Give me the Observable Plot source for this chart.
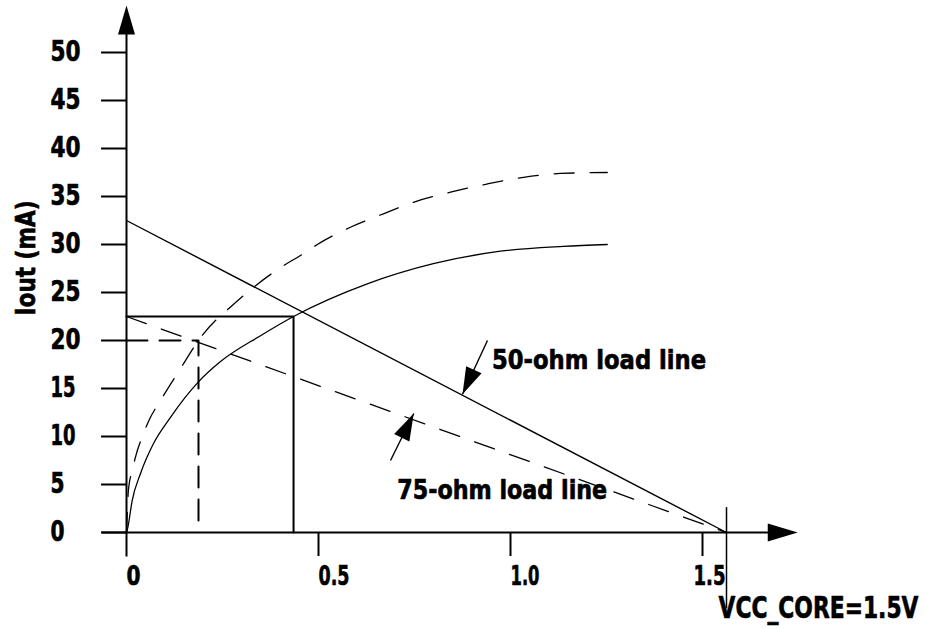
<!DOCTYPE html>
<html><head><meta charset="utf-8">
<script src="https://cdn.jsdelivr.net/npm/d3@7"></script>
<script src="https://cdn.jsdelivr.net/npm/@observablehq/plot@0.6"></script>
<style>
html,body{margin:0;padding:0;background:#fff;}
#chart svg{display:block;}
</style>
</head><body><div id="chart"></div>
<script>
// ---- data ----
const yTicks = [0, 5, 10, 15, 20, 25, 30, 35, 40, 45, 50];
const xTicks = [0, 0.5, 1.0, 1.5];
const xTickLabels = ["0", "0.5", "1.0", "1.5"];

// solid I-V curve (V, mA)
const solidV = [0, 0.0034, 0.0148, 0.0365, 0.0703, 0.1146, 0.1867, 0.2448, 0.349, 0.435, 0.627, 0.799, 0.974, 1.138, 1.252];
const solidI = [0, 0.52, 3.33, 6.15, 9.27, 12.0, 15.66, 17.8, 20.5, 22.5, 25.9, 28.0, 29.3, 29.8, 30.0];
// dashed I-V curve
const dashedV = [0, 0.002, 0.005, 0.015, 0.023, 0.044, 0.0625, 0.0885, 0.141, 0.1875, 0.2005, 0.271, 0.331, 0.409, 0.453, 0.505, 0.583, 0.669, 0.747, 0.844, 0.939, 1.034, 1.130, 1.252];
const dashedI = [0, 1.98, 4.4, 6.46, 7.8, 10.3, 12.0, 13.75, 17.1, 20.0, 20.7, 23.5, 25.55, 27.8, 28.85, 30.2, 31.8, 33.2, 34.4, 35.45, 36.3, 37.0, 37.4, 37.5];

// load lines: short-circuit current (mA) and open-circuit voltage
const vccCore = 1.5625;
const load50I0 = 32.5;
const load75I0 = 22.5;

// operating points
const op50 = [0.435, 22.5];
const op75 = [0.1875, 20.0];

// annotations
const labelTexts = ["50-ohm load line", "75-ohm load line"];
const labelV = [0.952, 0.705];
const labelI = [17.9, 4.4];
const arrowTailV = [0.94, 0.6875];
const arrowTailI = [20.0, 7.5];
const arrowTipV = [0.875, 0.748];
const arrowTipI = [14.4, 12.4];

const vccLabel = "VCC_CORE=1.5V";
const yTitle = "Iout (mA)";

// axis extents
const xAxisMin = -0.065, xAxisMax = 1.748;
const yAxisMin = -2.5, yAxisMax = 54.9;

// ---- layout ----
const W = 926, H = 629;
const xRange = [126, 702];   // px for domain [0, 1.5]
const yRange = [532, 52];    // px for domain [0, 50]
const kx = (xRange[1] - xRange[0]) / 1.5;
const ky = (yRange[0] - yRange[1]) / 50;

const arrowHead = (L, Wd) => ({
  draw(ctx) { ctx.moveTo(0, 0); ctx.lineTo(Wd, L); ctx.lineTo(-Wd, L); ctx.closePath(); }
});

const solid = solidV.map((v, i) => [v, solidI[i]]);
const dashed = dashedV.map((v, i) => [v, dashedI[i]]);
const ann = labelTexts.map((t, i) => ({
  text: t, lx: labelV[i], ly: labelI[i],
  x1: arrowTailV[i], y1: arrowTailI[i], x2: arrowTipV[i], y2: arrowTipI[i],
  rot: Math.atan2((arrowTipV[i] - arrowTailV[i]) * kx, (arrowTipI[i] - arrowTailI[i]) * ky) * 180 / Math.PI
}));

const font = "'DejaVu Sans', sans-serif";
const heavy = {fontWeight: "bold", stroke: "#000", strokeWidth: 0.7, fill: "#000"};

const chart = Plot.plot({
  width: W, height: H,
  margin: 0,
  x: {domain: [0, 1.5], range: xRange, axis: null},
  y: {domain: [0, 50], range: yRange, axis: null},
  style: {fontFamily: font, fontWeight: "bold", background: "#fff", color: "#000"},
  marks: [
    // axes
    Plot.link([0], {x1: xAxisMin, x2: xAxisMax - 0.05, y1: 0, y2: 0, stroke: "#000", strokeWidth: 2}),
    Plot.link([0], {x1: 0, x2: 0, y1: yAxisMin, y2: yAxisMax - 2, stroke: "#000", strokeWidth: 2}),
    Plot.dot([0], {x: xAxisMax, y: 0, symbol: arrowHead(30, 9), rotate: 90, fill: "#000", stroke: null}),
    Plot.dot([0], {x: 0, y: yAxisMax, symbol: arrowHead(29, 8.5), rotate: 0, fill: "#000", stroke: null}),
    Plot.ruleY(yTicks, {y: d => d, x1: xAxisMin, x2: 0, stroke: "#000", strokeWidth: 2}),
    Plot.ruleX(xTicks.slice(1), {x: d => d, y1: yAxisMin, y2: 0, stroke: "#000", strokeWidth: 2}),
    Plot.text(yTicks, {x: 0, y: d => d, text: d => String(d), textAnchor: "start", dx: -76, fontSize: 28, ...heavy}),
    Plot.text(xTicks.slice(0, 3), {x: d => d, y: 0, text: (d, i) => xTickLabels[i], textAnchor: "start", dy: 44, fontSize: 27, ...heavy}),
    Plot.text(xTicks.slice(3), {x: d => d, y: 0, text: (d, i) => xTickLabels[3 + i], textAnchor: "start", dx: -9, dy: 44, fontSize: 27, ...heavy}),
    Plot.text([yTitle], {x: 0, y: 28.6, text: d => d, rotate: -90, dx: -100, fontSize: 27, ...heavy}),
    // VCC marker
    Plot.link([0], {x1: vccCore, x2: vccCore, y1: -7.9, y2: 2.64, stroke: "#000", strokeWidth: 1.5}),
    Plot.text([vccLabel], {x: vccCore, y: 0, text: d => d, textAnchor: "end", dx: 192, dy: 76, fontSize: 31, ...heavy}),
    // operating point boxes
    Plot.line([[0, op50[1]], [op50[0], op50[1]], [op50[0], 0]], {stroke: "#000", strokeWidth: 2}),
    Plot.line([[0, op75[1]], [op75[0], op75[1]], [op75[0], 0]], {stroke: "#000", strokeWidth: 2, strokeDasharray: "21,12"}),
    // load lines
    Plot.line([[0, load50I0], [vccCore, 0]], {stroke: "#000", strokeWidth: 1.4}),
    Plot.line([[0, load75I0], [vccCore, 0]], {stroke: "#000", strokeWidth: 1.3, strokeDasharray: "21,16"}),
    // I-V curves
    Plot.line(solid, {curve: "monotone-x", stroke: "#000", strokeWidth: 1.3}),
    Plot.line(dashed, {curve: "monotone-x", stroke: "#000", strokeWidth: 1.3, strokeDasharray: "20,16"}),
    // annotations
    Plot.link(ann, {x1: "x1", y1: "y1", x2: "x2", y2: "y2", stroke: "#000", strokeWidth: 1.4}),
    Plot.dot(ann, {x: "x2", y: "y2", symbol: arrowHead(27, 8.5), rotate: "rot", fill: "#000", stroke: null}),
    Plot.text(ann, {x: "lx", y: "ly", text: "text", textAnchor: "start", fontSize: 27, ...heavy})
  ]
});
document.getElementById("chart").appendChild(chart);

// condensed look: squeeze each text to the width it has in the reference
const textWidths = {"50-ohm load line": 214, "75-ohm load line": 210, "VCC_CORE=1.5V": 200, "Iout (mA)": 115, "0.5": 31, "1.0": 29, "1.5": 32};
const widthOf = t => textWidths[t] ?? (t.length === 1 ? 14 : (t[0] === "1" ? 25 : 30));
chart.querySelectorAll("text").forEach(el => {
  el.setAttribute("textLength", widthOf(el.textContent));
  el.setAttribute("lengthAdjust", "spacingAndGlyphs");
});
</script>
</body></html>
